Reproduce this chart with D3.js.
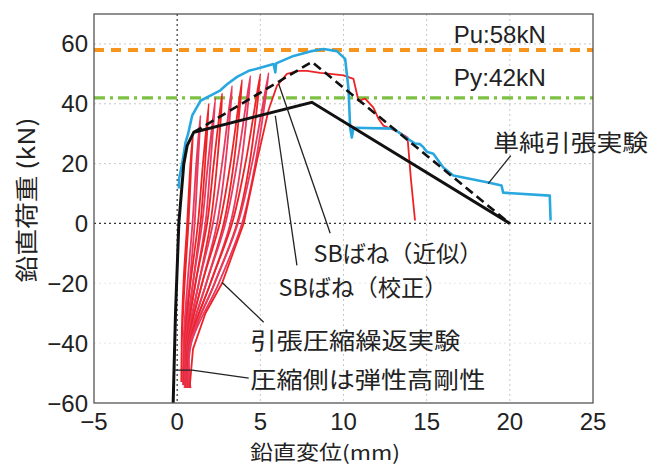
<!DOCTYPE html>
<html>
<head>
<meta charset="utf-8">
<script src="https://cdn.jsdelivr.net/npm/d3@7"></script>
<style>
  body { margin: 0; background: #fff; }
  svg { display: block; }
  text { font-family: "Liberation Sans", Arial, "Noto Sans CJK JP", sans-serif; fill: #222; }
  .jp { font-family: "Noto Sans CJK JP", sans-serif; }
</style>
</head>
<body>
<svg id="chart" width="649" height="466"></svg>
<script>
// axis ticks
const xTicks = [-5, 0, 5, 10, 15, 20, 25];
const yTicks = [-60, -40, -20, 0, 20, 40, 60];

// reference loads (kN)
const puValue = 58;
const pyValue = 42;

// 単純引張実験 (blue)
const tensionTest = [[0.1,11.7],[0.12,15],[0.3,20],[0.5,27],[0.66,30],[0.9,36],[1.4,41],[2.2,43.3],[2.6,44.5],[3.0,46.5],[3.6,49],[4.3,51],[5.0,52],[5.8,53.3],[5.9,50.5],[5.95,53.5],[7.0,56],[8.0,57.5],[8.8,58.3],[9.6,57.6],[10.1,55],[10.3,45],[10.4,32],[10.5,28.7],[10.6,32],[13.0,31.7],[13.6,29.3],[14.3,26.7],[14.6,26.5],[14.8,25.5],[15.0,24],[15.4,23.3],[16.0,18.7],[16.6,16],[18.7,13.7],[19.5,12.7],[19.6,10.3],[22.4,9.3],[22.45,1]];

// SBばね（校正） solid black
const sbCalibrated = [[-0.25,-62],[-0.1,-30],[0.1,0],[0.4,20],[0.6,26],[1.0,30.5],[8.1,40.5],[20,0]];

// SBばね（近似） dashed black
const sbApprox = [[1.0,30.5],[8.1,54],[20,0]];

// 引張圧縮繰返実験 (red loops)
const cyclicLoops = [
  [[0.25,-53],[0.28,-40],[0.45,-20],[0.68,0],[0.85,20],[0.95,30],[0.8,20],[0.6,0],[0.38,-20],[0.27,-40],[0.3,-53]],
  [[0.35,-54],[0.42,-40],[0.75,-20],[1.05,0],[1.25,20],[1.4,36],[1.15,20],[0.92,0],[0.62,-20],[0.38,-40],[0.4,-54]],
  [[0.4,-54],[0.5,-40],[0.95,-20],[1.4,0],[1.68,20],[1.9,40],[1.55,20],[1.25,0],[0.8,-20],[0.45,-40],[0.45,-54]],
  [[0.45,-55],[0.55,-40],[1.1,-20],[1.7,0],[2.0,20],[2.3,42],[1.85,20],[1.5,0],[0.95,-20],[0.5,-40],[0.5,-55]],
  [[0.5,-54],[0.6,-40],[1.3,-20],[2.0,0],[2.4,20],[2.7,43.5],[2.2,20],[1.8,0],[1.1,-20],[0.55,-40],[0.55,-54]],
  [[0.5,-55],[0.65,-40],[1.5,-20],[2.4,0],[2.9,20],[3.3,46],[2.7,20],[2.15,0],[1.3,-20],[0.6,-40],[0.6,-55]],
  [[0.55,-55],[0.7,-40],[1.75,-20],[2.8,0],[3.4,20],[3.9,48],[3.2,20],[2.55,0],[1.5,-20],[0.65,-40],[0.65,-55]],
  [[0.6,-55],[0.75,-40],[2.0,-20],[3.2,0],[3.85,20],[4.4,49.3],[3.6,20],[2.9,0],[1.75,-20],[0.7,-40],[0.7,-55]],
  [[0.65,-55],[0.8,-40],[2.25,-20],[3.6,0],[4.35,20],[5.0,50],[4.1,20],[3.3,0],[2.0,-20],[0.75,-40],[0.75,-55]],
  [[0.7,-55],[0.85,-40],[2.5,-20],[3.9,0],[4.7,20],[5.5,50.3],[4.5,20],[3.65,0],[2.25,-20],[0.8,-40],[0.8,-55]],
  [[0.75,-55],[0.95,-42],[1.7,-30],[2.7,-20],[4.0,0],[4.8,21],[5.5,38],[6.0,46],[6.6,50],[7.3,51],[7.8,51],[8.6,50.3],[9.2,50],[10.0,49.5],[10.6,48.3],[10.9,41],[11.3,41.7],[11.8,38.7],[12.1,35],[12.4,32.7],[13.4,30.3],[13.85,28.7],[14.05,15],[14.3,1]]
];

// annotations: text, left x / centre y (data units), width px, leader points
const notes = [
  {text: "Pu:58kN", x: 16.63, y: 63, w: 92, jp: false, leader: null},
  {text: "Py:42kN", x: 16.63, y: 48.7, w: 92, jp: false, leader: null},
  {text: "単純引張実験", x: 19.0, y: 27.7, w: 155, jp: true, leader: [[20.06,22.7],[18.7,13.3]]},
  {text: "SBばね（近似）", x: 8.2, y: -9.7, w: 169, jp: true, leader: [[6.1,46.7],[9.2,-3.3]]},
  {text: "SBばね（校正）", x: 6.1, y: -21, w: 169, jp: true, leader: [[5.9,36],[7.2,-14]]},
  {text: "引張圧縮繰返実験", x: 4.4, y: -38.7, w: 210, jp: true, leader: [[2.7,-19.7],[5.2,-33]]},
  {text: "圧縮側は弾性高剛性", x: 4.4, y: -51.7, w: 235, jp: true, leader: [[-0.2,-49],[0.9,-49],[4.3,-51.7]]}
];

const redColors = ["#ec2427", "#e8395e"];

const svg = d3.select("#chart");
const x = d3.scaleLinear().domain([-5, 25]).range([94, 593]);
const y = d3.scaleLinear().domain([-60, 70]).range([403, 14]);

svg.append("defs").append("clipPath").attr("id", "plotClip")
  .append("rect").attr("x", 94).attr("y", 14).attr("width", 499).attr("height", 389);

// grid
let grid = svg.append("g");
grid.selectAll("line.gx").data(xTicks.filter(d => d > -5 && d < 25)).enter().append("line")
  .attr("x1", d => x(d)).attr("x2", d => x(d)).attr("y1", y(70)).attr("y2", y(-60))
  .attr("stroke", d => d === 0 ? "#333" : "#c8c8c8")
  .attr("stroke-width", d => d === 0 ? 1.2 : 1)
  .attr("stroke-dasharray", "2,3");
grid.selectAll("line.gy").data(yTicks.filter(d => d > -60)).enter().append("line")
  .attr("x1", x(-5)).attr("x2", x(25)).attr("y1", d => y(d)).attr("y2", d => y(d))
  .attr("stroke", d => d === 0 ? "#333" : (d < 0 ? "#e6e6e6" : "#c8c8c8"))
  .attr("stroke-width", d => d === 0 ? 1.2 : 1)
  .attr("stroke-dasharray", "2,3");

// Pu / Py lines
svg.append("line").attr("x1", x(-5)).attr("x2", x(25)).attr("y1", y(puValue)).attr("y2", y(puValue))
  .attr("stroke", "#f7941d").attr("stroke-width", 4).attr("stroke-dasharray", "10,7");
svg.append("line").attr("x1", x(-5)).attr("x2", x(25)).attr("y1", y(pyValue)).attr("y2", y(pyValue))
  .attr("stroke", "#7cc142").attr("stroke-width", 3.2).attr("stroke-dasharray", "11,5,3,5");

const line = d3.line().x(d => x(d[0])).y(d => y(d[1]));
const smooth = d3.line().x(d => x(d[0])).y(d => y(d[1])).curve(d3.curveCatmullRom.alpha(0.5));
let plot = svg.append("g").attr("clip-path", "url(#plotClip)");

plot.selectAll("path.red").data(cyclicLoops).enter().append("path")
  .attr("d", (d, i) => i === cyclicLoops.length - 1 ? line(d) : smooth(d)).attr("fill", "none")
  .attr("stroke", (d, i) => redColors[i % 2]).attr("stroke-width", 1.8)
  .attr("stroke-linejoin", "round");

plot.append("path").datum(tensionTest).attr("d", line).attr("fill", "none")
  .attr("stroke", "#29a8e0").attr("stroke-width", 2.6).attr("stroke-linejoin", "round");

plot.append("path").datum(sbCalibrated).attr("d", line).attr("fill", "none")
  .attr("stroke", "#111").attr("stroke-width", 3);

plot.append("path").datum(sbApprox).attr("d", line).attr("fill", "none")
  .attr("stroke", "#111").attr("stroke-width", 2.6).attr("stroke-dasharray", "9,5");

// frame
svg.append("rect").attr("x", 94).attr("y", 14).attr("width", 499).attr("height", 389)
  .attr("fill", "none").attr("stroke", "#555").attr("stroke-width", 1.3);

// ticks + labels
svg.selectAll("text.xt").data(xTicks).enter().append("text")
  .attr("x", d => x(d)).attr("y", 430).attr("text-anchor", "middle")
  .attr("font-size", 24).text(d => d3.format("")(d));
svg.selectAll("text.yt").data(yTicks).enter().append("text")
  .attr("x", 88).attr("y", d => y(d) + 8.5).attr("text-anchor", "end")
  .attr("font-size", 24).text(d => d3.format("")(d));

// axis titles
svg.append("text").attr("class", "jp").attr("x", 250).attr("y", 451)
  .attr("dominant-baseline", "central").attr("font-size", 20)
  .attr("textLength", 150).attr("lengthAdjust", "spacingAndGlyphs").text("鉛直変位(mm)");
svg.append("text").attr("class", "jp").attr("transform", "translate(25,200) rotate(-90)")
  .attr("text-anchor", "middle").attr("dominant-baseline", "central").attr("font-size", 23)
  .attr("textLength", 165).attr("lengthAdjust", "spacingAndGlyphs").text("鉛直荷重 (kN)");

// annotations
notes.forEach(n => {
  if (n.leader) {
    svg.append("path").datum(n.leader).attr("d", line).attr("fill", "none")
      .attr("stroke", "#222").attr("stroke-width", 1.3);
  }
  svg.append("text").attr("class", n.jp ? "jp" : null)
    .attr("x", x(n.x)).attr("y", y(n.y)).attr("dominant-baseline", "central")
    .attr("font-size", n.jp ? 23 : 24)
    .attr("textLength", n.w).attr("lengthAdjust", "spacingAndGlyphs").text(n.text);
});
</script>
</body>
</html>
